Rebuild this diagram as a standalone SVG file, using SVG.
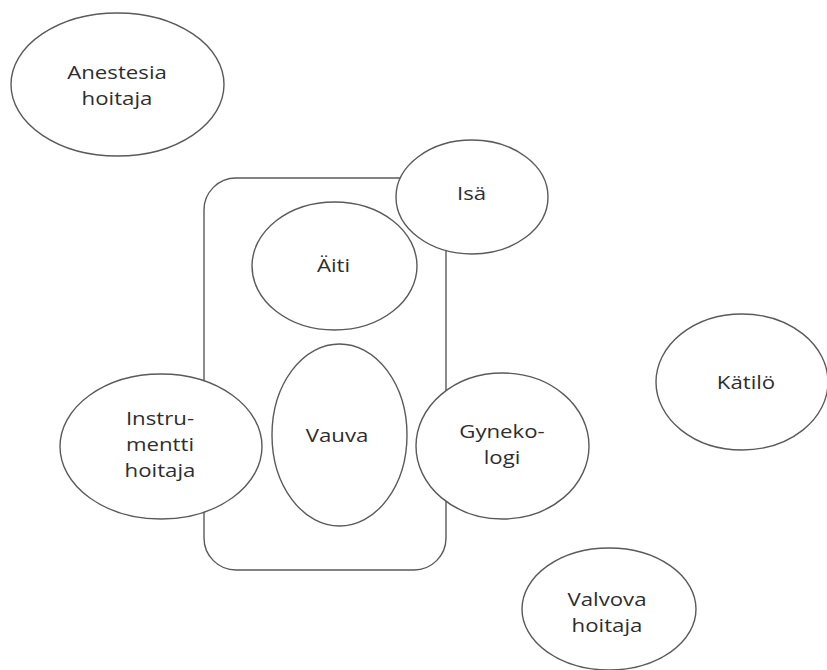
<svg xmlns="http://www.w3.org/2000/svg" width="827" height="670" viewBox="0 0 827 670">
<style>
.n{fill:#fff;stroke:#5a5a5a;stroke-width:1.4}
.t{font-family:"Open Sans","DejaVu Sans",sans-serif;font-size:19px;fill:#2e2e2e;text-anchor:middle}
</style>
<rect width="827" height="670" fill="#fff"/>
<g id="group-box"><rect class="n" x="204" y="178" width="242" height="392" rx="32"/></g>
<g id="connectors"></g>
<g id="anestesia"><ellipse class="n" cx="117.5" cy="84.5" rx="106.5" ry="71.5"/><g transform="translate(117,0) scale(1.17,1)"><text class="t" x="0" y="79">Anestesia</text><text class="t" x="0" y="105">hoitaja</text></g></g>
<g id="isa"><ellipse class="n" cx="472" cy="197" rx="76" ry="57"/><g transform="translate(471.5,0) scale(1.17,1)"><text class="t" x="0" y="200">Isä</text></g></g>
<g id="aiti"><ellipse class="n" cx="334.5" cy="266" rx="82.5" ry="64"/><g transform="translate(333.5,0) scale(1.17,1)"><text class="t" x="0" y="272">Äiti</text></g></g>
<g id="vauva"><ellipse class="n" cx="339.5" cy="435" rx="67.5" ry="91"/><g transform="translate(337,0) scale(1.17,1)"><text class="t" x="0" y="442">Vauva</text></g></g>
<g id="instrumentti"><ellipse class="n" cx="161" cy="446.5" rx="101" ry="72.5"/><g transform="translate(160,0) scale(1.17,1)"><text class="t" x="0" y="425">Instru-</text><text class="t" x="0" y="451">mentti</text><text class="t" x="0" y="477">hoitaja</text></g></g>
<g id="gynekologi"><ellipse class="n" cx="502.5" cy="446" rx="86.5" ry="73"/><g transform="translate(502,0) scale(1.17,1)"><text class="t" x="0" y="438">Gyneko-</text><text class="t" x="0" y="464">logi</text></g></g>
<g id="katilo"><ellipse class="n" cx="742" cy="382" rx="86" ry="68"/><g transform="translate(746,0) scale(1.17,1)"><text class="t" x="0" y="389">Kätilö</text></g></g>
<g id="valvova"><ellipse class="n" cx="609" cy="609" rx="87" ry="61"/><g transform="translate(607,0) scale(1.17,1)"><text class="t" x="0" y="606">Valvova</text><text class="t" x="0" y="632">hoitaja</text></g></g>
</svg>
